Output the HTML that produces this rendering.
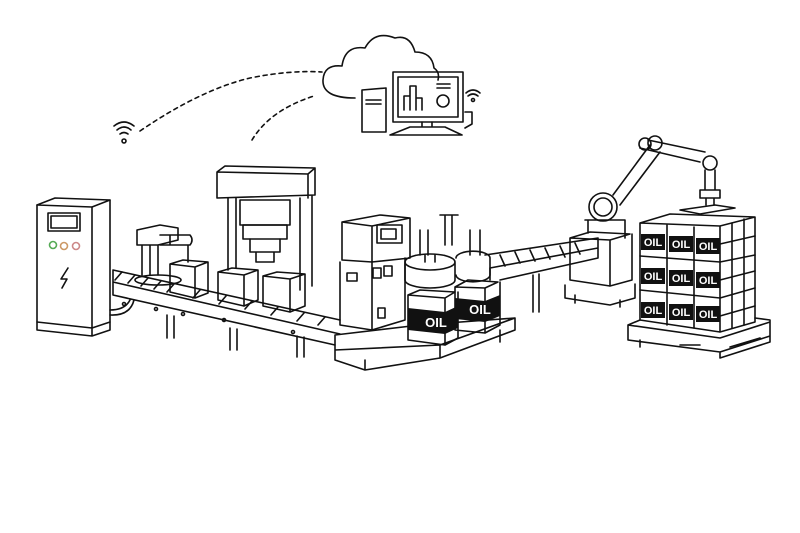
<!DOCTYPE html>
<html><head><style>html,body{margin:0;padding:0;background:#fff}svg{display:block}</style></head>
<body>
<svg width="800" height="533" viewBox="0 0 800 533" xmlns="http://www.w3.org/2000/svg" font-family="Liberation Sans, sans-serif">
<rect width="800" height="533" fill="#fff"/>
<g fill="none" stroke="#111" stroke-width="1.6" stroke-linejoin="round" stroke-linecap="round">
<path d="M140 131 Q200 90 250 78 Q290 70 322 72" stroke-dasharray="4 4"/>
<path d="M252 140 Q270 110 314 96" stroke-dasharray="4 4"/>
<path d="M114 126 Q124 118 134 126 M117 130 Q124 124 131 130 M120 134 Q124 131 128 134"/>
<circle cx="124" cy="141" r="2"/>
<path d="M355 98 Q322 98 323 80 Q324 64 342 66 Q345 45 365 48 Q375 30 395 38 Q410 34 415 52 Q432 52 434 68 Q440 72 438 80"/>
<path d="M362 90 L386 88 L386 132 L362 132 Z M366 100 L381 100 M366 104 L381 104"/>
<rect x="393" y="72" width="70" height="50"/>
<rect x="398" y="77" width="60" height="40"/>
<path d="M404 110 V96 H410 V110 M410 110 V86 H416 V110 M416 110 V98 H422 V110 M437 84 H450 M437 88 H450"/>
<circle cx="443" cy="101" r="6"/>
<path d="M422 122 V127 M432 122 V127 M410 127 H445 L462 135 H390 Z M465 112 L472 112 L472 124 L465 128"/>
<path d="M466 93 Q473 87 480 93 M468 96 Q473 92 478 96"/><circle cx="473" cy="100" r="1.5"/>
<path d="M37 205 L55 198 L110 200 L92 207 Z"/>
<path d="M37 205 V322 L92 328 V207 M92 328 L110 322 V200"/>
<path d="M37 322 V330 L92 336 L110 330 V322 M92 328 V336"/>
<rect x="48" y="213" width="32" height="18"/><rect x="51" y="216" width="26" height="12"/>
<circle cx="53" cy="245" r="3.5" stroke="#5a5"/><circle cx="64" cy="246" r="3.5" stroke="#c96"/><circle cx="76" cy="246" r="3.5" stroke="#c88"/>
<path d="M68 268 L61 279 H67 L62 288"/>
<path d="M110 310 Q125 310 130 300 M110 315 Q130 316 134 300"/>
<path d="M113 270 L340 320 M113 282 L340 334 M113 282 L113 295 L335 345 M113 270 L113 282"/>
<path d="M122 272 L115 280 M135 275 L128 283 M148 278 L141 286 M161 281 L154 289 M174 284 L167 292 M200 290 L193 298 M226 296 L219 304 M252 301 L245 309 M278 307 L271 315 M304 313 L297 321 M325 317 L318 325"/>
<circle cx="124" cy="304" r="1.5"/><circle cx="156" cy="309" r="1.5"/><circle cx="183" cy="314" r="1.5"/><circle cx="224" cy="320" r="1.5"/><circle cx="293" cy="332" r="1.5"/>
<path d="M167 315 V338 M174 316 V338 M230 328 V350 M237 329 V350 M297 336 V357 M304 337 V357"/>
<path d="M137 230 L160 225 L178 228 L178 240 L158 245 L137 245 Z M142 245 V275 M158 245 V275 M150 245 V275"/>
<path d="M160 235 L190 235 Q194 240 190 245 L160 245 M170 235 V245 M188 245 V262"/>
<ellipse cx="158" cy="280" rx="23" ry="5"/>
<path d="M170 264 L183 260 L208 262 L195 267 Z M170 264 V292 L195 298 V267 M195 298 L208 293 V262"/>
<path d="M218 272 L232 268 L258 270 L244 275 Z M218 272 V300 L244 306 V275 M244 306 L258 300 V270"/>
<path d="M263 276 L277 272 L305 274 L290 279 Z M263 276 V306 L290 312 V279 M290 312 L305 306 V274"/>
<path d="M217 172 L225 166 L315 168 L315 195 L217 198 Z M217 172 L308 174 L315 168 M308 174 V198"/>
<path d="M228 198 V270 M236 198 V268 M300 198 V290 M312 196 V286"/>
<rect x="240" y="200" width="50" height="25"/>
<rect x="243" y="225" width="44" height="14"/>
<path d="M250 239 V252 H280 V239 M256 252 V262 H274 V252"/>
<path d="M342 222 L380 215 L410 218 L372 226 Z M342 222 V260 L372 262 V226 M372 262 L410 258 V218"/>
<rect x="377" y="225" width="25" height="18"/><rect x="381" y="229" width="15" height="10"/>
<path d="M340 262 V325 L372 330 V262 M372 330 L405 320 V258"/>
<rect x="347" y="273" width="10" height="8"/><rect x="373" y="268" width="8" height="10"/><rect x="384" y="266" width="8" height="10"/>
<rect x="378" y="308" width="7" height="10"/>
<path d="M335 335 L420 325 L515 318 L440 345 L335 350 Z M335 350 V360 L365 370 L440 358 V345 M440 358 L515 330 V318 M365 360 V370 M500 330 V342"/>
<path d="M405 262 A25 8 0 0 1 455 262 V280 A25 8 0 0 1 405 280 Z M405 262 A25 8 0 0 0 455 262"/>
<path d="M425 255 V262 M435 255 V262 M420 230 V255 M428 230 V255 M445 215 V245 M452 215 V245 M470 230 V255 M480 230 V255 M456 258 A15 6 0 0 1 490 258 V275 A15 6 0 0 1 456 275 M440 215 H458"/>
<path d="M408 295 L420 290 L455 292 L445 298 Z M408 295 V340 L445 345 V298 M445 345 L458 338 V292"/>
<path d="M455 287 L468 280 L498 282 L485 288 Z M455 287 V330 L485 333 V288 M485 333 L500 325 V282"/>
<path d="M485 255 L598 238 L598 248 L490 268 M490 268 V280 M598 248 V258 L500 280"/>
<path d="M500 255 L505 266 M515 252 L520 263 M530 250 L535 261 M545 248 L550 259 M560 246 L565 257 M575 243 L580 254"/>
<path d="M533 275 V312 M539 274 V312"/>
<path d="M570 238 L590 232 L630 234 L610 240 Z M570 238 V280 L610 286 V240 M610 286 L632 280 V234"/>
<path d="M565 285 V298 L610 305 L635 298 V284 M575 295 V303 M620 300 V307"/>
<path d="M585 220 H625 V238 M588 220 V233"/>
<circle cx="603" cy="207" r="14"/><circle cx="603" cy="207" r="9"/>
<path d="M613 195 L650 145 M620 205 L660 152 M640 148 L700 162 M648 140 L705 152"/>
<circle cx="645" cy="144" r="6"/><circle cx="655" cy="143" r="7"/><circle cx="710" cy="163" r="7"/>
<path d="M705 170 V190 H715 V170 M700 190 H720 V198 H700 Z M706 198 V205 M714 198 V205"/>
<path d="M680 210 L715 205 L735 208 L700 214 Z"/>
<path d="M640 223 L670 214 L755 217 L720 226 Z M640 223 V320 L720 332 V226 M720 332 L755 322 V217"/>
<path d="M640 256 L720 262 L755 255 M640 290 L720 298 L755 288 M667 225 V325 M694 227 V328 M732 223 V328 M744 219 V325 M720 244 L755 236 M720 280 L755 271 M720 316 L755 306"/>
<path d="M628 325 L640 320 M628 325 V340 L720 352 L770 336 V320 L755 318 M628 325 L720 338 L770 322 M640 340 V347 M720 352 V358 L770 342 V336 M680 345 H700 M730 347 L760 338"/>
</g>
<g fill="#111">
<path d="M408 308 L445 312 L458 306 V328 L445 334 L408 330 Z"/>
<path d="M455 298 L485 301 L500 295 V316 L485 322 L455 319 Z"/>
<rect x="641" y="234" width="24" height="16"/><rect x="669" y="236" width="24" height="16"/><rect x="696" y="238" width="24" height="16"/>
<rect x="641" y="268" width="24" height="16"/><rect x="669" y="270" width="24" height="16"/><rect x="696" y="272" width="24" height="16"/>
<rect x="641" y="302" width="24" height="16"/><rect x="669" y="304" width="24" height="16"/><rect x="696" y="306" width="24" height="16"/>
</g>
<g fill="#fff" font-weight="bold" font-size="11" text-anchor="middle">
<text x="436" y="327" font-size="13">OIL</text><text x="480" y="314" font-size="13">OIL</text>
<text x="653" y="246">OIL</text><text x="681" y="248">OIL</text><text x="708" y="250">OIL</text>
<text x="653" y="280">OIL</text><text x="681" y="282">OIL</text><text x="708" y="284">OIL</text>
<text x="653" y="314">OIL</text><text x="681" y="316">OIL</text><text x="708" y="318">OIL</text>
</g>
</svg>
</body></html>
